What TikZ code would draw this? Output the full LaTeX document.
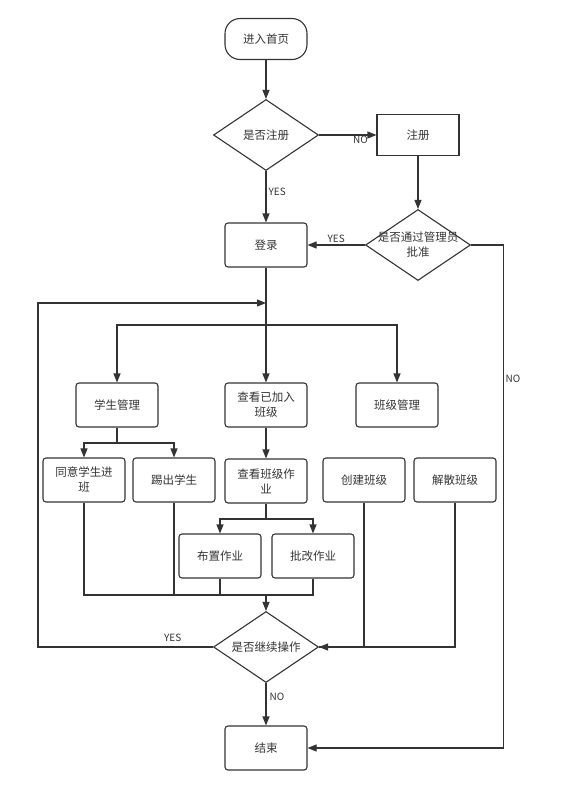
\documentclass[tikz,border=0pt]{standalone}
\usepackage{fontspec}
\setmainfont{Noto Sans CJK SC}
\usetikzlibrary{arrows.meta, shapes.geometric, positioning}
\definecolor{ln}{HTML}{333333}

\begin{document}
\begin{tikzpicture}[x=1pt, y=-1pt, >={Triangle[length=9pt,width=7pt]},
    box/.style={draw=ln, line width=1.1pt, rounded corners=3pt, minimum width=82pt, minimum height=44pt, align=center, text=ln, inner sep=1pt, font=\fontsize{11.5}{15}\selectfont},
    startbox/.style={box, rounded corners=15pt, minimum height=41pt},
    decision/.style={draw=ln, line width=1.1pt, diamond, minimum width=105pt, minimum height=71pt, inner sep=0pt},
    dtext/.style={text=ln, align=center, font=\fontsize{11.5}{15}\selectfont},
    flow/.style={draw=ln, line width=1.1pt, ->},
    link/.style={draw=ln, line width=1.1pt},
    tag/.style={text=ln, font=\fontsize{10}{12}\selectfont, inner sep=2pt}]
\useasboundingbox (0,0) rectangle (560,801);
% top part
\node[startbox] (start) at (266,39) {进入首页};
\node[decision, label={[dtext]center:是否注册}] (isreg) at (266,135) {};
\node[box, rounded corners=0pt, minimum height=41pt] (reg) at (418,135) {注册};
\node[box] (login) at (266,245) {登录};
\node[decision, label={[dtext]center:是否通过管理员\\批准}] (approve) at (418,245) {};
% three modules
\node[box] (stu) at (117,405) {学生管理};
\node[box] (joined) at (266,405) {查看已加入\\班级};
\node[box] (cls) at (397,405) {班级管理};
\node[box] (agree) at (84,480) {同意学生进\\班};
\node[box] (kick) at (174,480) {踢出学生};
\node[box] (hw) at (266,481) {查看班级作\\业};
\node[box] (create) at (364,480) {创建班级};
\node[box] (dismiss) at (455,480) {解散班级};
\node[box] (assign) at (220,556) {布置作业};
\node[box] (grade) at (313,556) {批改作业};
% bottom part
\node[decision, label={[dtext]center:是否继续操作}] (again) at (266,647) {};
\node[box] (end) at (266,748) {结束};
\coordinate (loopin) at (266,303);
\coordinate (fork) at (266,325);
\coordinate (stufork) at (117,443);
\coordinate (hwfork) at (266,519);
\coordinate (merge) at (266,595);
% connectors
\draw[flow] (start) -- (isreg);
\draw[flow] (isreg) -- node[tag, below=-2pt, pos=0.72] {NO} (reg);
\draw[flow] (isreg) -- node[tag, right=0pt, pos=0.4] {YES} (login);
\draw[flow] (reg) -- (approve);
\draw[flow] (approve) -- node[tag, above=0pt] {YES} (login);
\draw[flow] (approve.east) -- ++(32,0) |- node[tag, right=0pt, pos=0.133] {NO} (end);
\draw[flow] (login) -- (joined);
\draw[flow] (fork) -| (stu);
\draw[flow] (fork) -| (cls);
\draw[link] (stu) -- (stufork);
\draw[flow] (stufork) -| (agree);
\draw[flow] (stufork) -| (kick);
\draw[flow] (joined) -- (hw);
\draw[link] (hw) -- (hwfork);
\draw[flow] (hwfork) -| (assign);
\draw[flow] (hwfork) -| (grade);
\draw[link] (agree) |- (merge);
\draw[link] (kick) |- (merge);
\draw[link] (assign) |- (merge);
\draw[link] (grade) |- (merge);
\draw[flow] (merge) -- (again);
\draw[link] (create) |- (again);
\draw[flow] (dismiss) |- (again);
\draw[flow] (again.west) -- node[tag, above=3pt, pos=0.23] {YES} ++(-175,0) |- (loopin);
\draw[flow] (again) -- node[tag, right=1pt, pos=0.32] {NO} (end);
\end{tikzpicture}
\end{document}
